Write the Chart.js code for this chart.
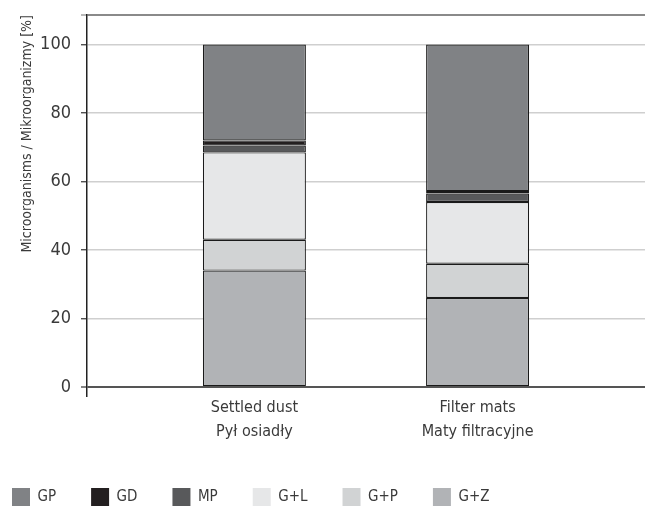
<!DOCTYPE html>
<html>
<head>
<meta charset="utf-8">
<script src="https://cdn.jsdelivr.net/npm/chart.js@4/dist/chart.umd.min.js"></script>
<style>
  html, body { margin: 0; padding: 0; background: #fff; overflow: hidden; }
  #wrap { width: 645px; height: 507px; }
</style>
</head>
<body>
<div id="wrap"><canvas id="chart" width="645" height="507"></canvas></div>
<script>
// categories (two-line labels)
const categories = [['Settled dust', 'Pył osiadły'], ['Filter mats', 'Maty filtracyjne']];

// series values, bottom to top of the stack [%]
const gz = [34, 26];
const gp2 = [9, 10];
const gl = [25.5, 18];
const mp = [2, 2.5];
const gd = [1.5, 0.7];
const gp = [28, 42.8];

// y axis
const yTickValues = [0, 20, 40, 60, 80, 100];
const yMin = -2.6;
const yMax = 108.6;

const fontFamily = "'DejaVu Sans Condensed', 'Liberation Sans Narrow', Roboto, sans-serif";
const legendPad = 35;

// pad with empty slots so the two bars sit where they do in the original
const pad = v => [null, v[0], null, v[1], null];
const xLabels = ['', categories[0], '', categories[1], ''];

const series = [
    { label: 'G+Z', data: gz, color: '#b1b3b6' },
    { label: 'G+P', data: gp2, color: '#d1d3d4' },
    { label: 'G+L', data: gl, color: '#e6e7e8' },
    { label: 'MP', data: mp, color: '#58595b' },
    { label: 'GD', data: gd, color: '#231f20' },
    { label: 'GP', data: gp, color: '#808285' }
];

// puts the legend at the lower left like the printed figure
const legendPlace = {
    id: 'legendPlace',
    afterLayout(chart) {
        chart.legend.left = 12 - legendPad;
        chart.legend.top = 488 - legendPad;
    }
};

const ctx = document.getElementById('chart').getContext('2d');
new Chart(ctx, {
    type: 'bar',
    data: {
        labels: xLabels,
        datasets: series.map(s => ({
            label: s.label,
            data: pad(s.data),
            backgroundColor: s.color,
            borderColor: '#1a1a1a',
            borderWidth: 1.2,
            borderSkipped: false,
            inflateAmount: 0,
            barPercentage: 0.923,
            categoryPercentage: 1
        }))
    },
    options: {
        responsive: false,
        animation: false,
        layout: { padding: { top: 15, right: 0, left: 0, bottom: 0 } },
        plugins: {
            tooltip: { enabled: false },
            legend: {
                position: 'bottom',
                align: 'start',
                reverse: true,
                labels: {
                    boxWidth: 18,
                    boxHeight: 18,
                    padding: legendPad,
                    color: '#3a3a3a',
                    font: { family: fontFamily, size: 15 },
                    generateLabels(chart) {
                        const items = Chart.defaults.plugins.legend.labels.generateLabels(chart);
                        items.forEach(it => { it.lineWidth = 0; });
                        return items;
                    }
                }
            }
        },
        scales: {
            x: {
                stacked: true,
                afterFit(scale) { scale.height = 48; },
                grid: { display: false, drawTicks: false },
                border: { display: false },
                ticks: {
                    color: '#3a3a3a',
                    padding: 0,
                    maxRotation: 0,
                    autoSkip: false,
                    font: { family: fontFamily, size: 16, lineHeight: 1.5 }
                }
            },
            y: {
                stacked: true,
                min: yMin,
                max: yMax,
                afterBuildTicks(scale) {
                    scale.ticks = yTickValues.concat([yMax]).map(v => ({ value: v }));
                },
                afterFit(scale) {
                    scale.width = 87;
                    scale.paddingTop = 0;
                    scale.paddingBottom = 0;
                },
                border: { display: true, color: '#222', width: 1.5 },
                grid: {
                    color: c => c.tick.value === yMax ? '#8a8a8a' : (c.tick.value === 0 ? '#555' : '#cfcfcf'),
                    lineWidth: c => c.tick.value === yMax ? 2 : (c.tick.value === 0 ? 2 : 1.5),
                    tickColor: c => c.tick.value === yMax ? '#8a8a8a' : '#333',
                    tickLength: 6,
                    tickWidth: 1.2
                },
                ticks: {
                    color: '#3a3a3a',
                    padding: 10,
                    font: { family: fontFamily, size: 18 },
                    callback: v => yTickValues.includes(v) ? String(v) : ''
                },
                title: {
                    display: true,
                    align: 'end',
                    text: 'Microorganisms / Mikroorganizmy [%]',
                    color: '#3a3a3a',
                    padding: { top: 19, bottom: 0 },
                    font: { family: fontFamily, size: 14 }
                }
            }
        }
    },
    plugins: [legendPlace]
});
</script>
</body>
</html>
